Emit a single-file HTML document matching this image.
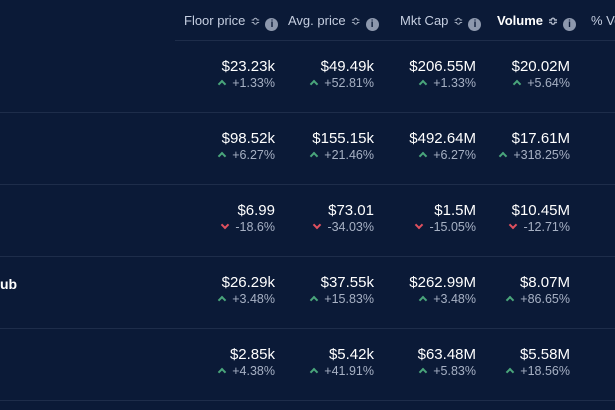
<!DOCTYPE html>
<html><head><meta charset="utf-8"><style>
body{margin:0;width:615px;height:410px;overflow:hidden;background:#0b1a37;font-family:"Liberation Sans",sans-serif;position:relative}
.hline{position:absolute;left:0;width:615px;height:1px;background:#1e2d4a}
.hd{position:absolute;top:13px;font-size:13px;color:#c5cee0;white-space:nowrap}
.hd.b{color:#fff;font-weight:bold}
.ic{display:inline-block;width:13px;height:13px;border-radius:50%;background:#8d98ad;color:#0b1a37;font-size:10px;font-weight:bold;text-align:center;line-height:13px;vertical-align:-2px;margin-left:5px}
.so{font-size:12px;color:#aab3c4;margin-left:5px}
.v{position:absolute;text-align:right;font-size:15px;color:#fff;white-space:nowrap}
.c{position:absolute;text-align:right;font-size:12.5px;color:#a7b1c4;white-space:nowrap}
.c::before{content:"";display:inline-block;width:4px;height:4px;border-left:2px solid;border-top:2px solid;margin-right:7px}
.up::before{border-color:#4aa67b;transform:rotate(45deg);vertical-align:0px}
.dn::before{border-color:#e0505e;transform:rotate(225deg);vertical-align:3px}
.name{position:absolute;font-size:14px;font-weight:bold;color:#fff}
</style></head><body>
<div class="hline" style="top:40px;left:175px;width:440px"></div>
<div class="hd" style="left:184px">Floor price<span class="so">≎</span><span class="ic">i</span></div>
<div class="hd" style="left:288px">Avg. price<span class="so">≎</span><span class="ic">i</span></div>
<div class="hd" style="left:400px">Mkt Cap<span class="so">≎</span><span class="ic">i</span></div>
<div class="hd b" style="left:497px">Volume<span class="so">≎</span><span class="ic">i</span></div>
<div class="hd" style="left:591px">% Vo</div>
<div class="name" style="left:0;top:276px">ub</div>
<script>
const floor=["$23.23k","$98.52k","$6.99","$26.29k","$2.85k"];
const floorCh=["+1.33%","+6.27%","-18.6%","+3.48%","+4.38%"];
const avg=["$49.49k","$155.15k","$73.01","$37.55k","$5.42k"];
const avgCh=["+52.81%","+21.46%","-34.03%","+15.83%","+41.91%"];
const cap=["$206.55M","$492.64M","$1.5M","$262.99M","$63.48M"];
const capCh=["+1.33%","+6.27%","-15.05%","+3.48%","+5.83%"];
const vol=["$20.02M","$17.61M","$10.45M","$8.07M","$5.58M"];
const volCh=["+5.64%","+318.25%","-12.71%","+86.65%","+18.56%"];
const cols=[[floor,floorCh,275],[avg,avgCh,374],[cap,capCh,476],[vol,volCh,570]];
const names=['floor','avg','cap','vol'];
for(let r=0;r<5;r++){
  const top=40+r*72;
  const l=document.createElement('div');l.className='hline';l.style.top=(top+72)+'px';
  
  
  document.body.appendChild(l);
  cols.forEach((c,i)=>{
    const v=document.createElement('div');v.className='v';v.textContent=c[0][r];
    v.style.right=(615-c[2])+'px';v.style.top=(top+18)+'px';
    
    
    document.body.appendChild(v);
    const ch=document.createElement('div');ch.className='c '+(c[1][r][0]=='-'?'dn':'up');ch.textContent=c[1][r];
    ch.style.right=(615-c[2])+'px';ch.style.top=(top+36)+'px';
    
    
    document.body.appendChild(ch);
  });
}
</script>
</body></html>
